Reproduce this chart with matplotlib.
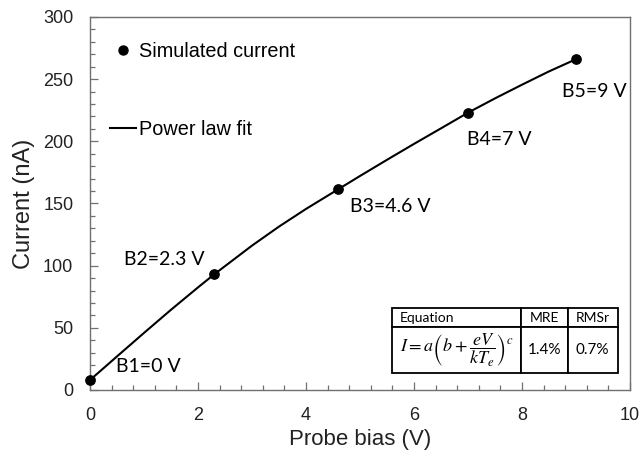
import matplotlib
matplotlib.use("Agg")
import matplotlib.pyplot as plt
from matplotlib.lines import Line2D

# simulated current at each probe bias
bias = [0, 2.3, 4.6, 7, 9]
current = [8, 93, 161.5, 223, 266]
point_labels = ["B1=0 V", "B2=2.3 V", "B3=4.6 V", "B4=7 V", "B5=9 V"]
label_pos = [(0.48, 18.6), (0.63, 104.6), (4.81, 147.4), (6.99, 201.1), (8.74, 239.9)]

# power law fit curve
fit_v = [0, 0.5, 1, 1.5, 2, 2.3, 3, 3.5, 4, 4.6, 5, 5.5, 6, 6.5, 7, 7.5, 8, 8.5, 9]
fit_i = [8, 27, 45.9, 64.5, 82.5, 93, 116.1, 131.4, 145.6, 161.5, 172.1, 185.1,
         197.9, 210.4, 223, 234.5, 245.5, 256.2, 266]

table_rows = [["Equation", "MRE", "RMSr"],
              [r"$I = a\left(b+\dfrac{eV}{kT_e}\right)^c$", "1.4%", "0.7%"]]

ANNOT_FONT = "Lato"
SPINE = "#707070"


def main():
    plt.rcParams["font.family"] = ["Liberation Sans", "DejaVu Sans"]
    plt.rcParams["mathtext.fontset"] = "stix"

    fig = plt.figure(figsize=(6.41, 4.58), dpi=100)
    ax = fig.add_axes([0.1404, 0.1485, 0.8424, 0.8145])

    ax.plot(fit_v, fit_i, color="black", lw=1.5, zorder=2)
    ax.scatter(bias, current, s=45, color="black", zorder=3, clip_on=False)

    for txt, (x, y) in zip(point_labels, label_pos):
        ax.text(x, y, txt, fontsize=14, family=ANNOT_FONT, ha="left", va="center")

    ax.set_xlim(0, 10)
    ax.set_ylim(0, 300)
    ax.set_xticks(range(0, 11, 2))
    ax.set_yticks(range(0, 301, 50))
    ax.set_xticks([i * 0.4 for i in range(26)], minor=True)
    ax.set_yticks(range(0, 301, 10), minor=True)
    ax.tick_params(which="both", direction="in", colors=SPINE, labelcolor="#222222",
                   labelsize=13, width=0.9)
    ax.tick_params(axis="x", which="both", top=False, pad=12)
    ax.tick_params(axis="y", which="both", right=False, pad=12)
    ax.tick_params(which="major", length=6)
    ax.tick_params(which="minor", length=3.5)
    for sp in ax.spines.values():
        sp.set_color(SPINE)
        sp.set_linewidth(1.0)

    ax.set_xlabel("Probe bias (V)", fontsize=16, color="#222222", labelpad=4)
    ax.set_ylabel("Current (nA)", fontsize=17, color="#222222", labelpad=6)

    handles = [Line2D([], [], ls="none", marker="o", ms=6.5, color="black"),
               Line2D([], [], color="black", lw=1.5)]
    ax.legend(handles, ["Simulated current", "Power law fit"], loc="upper left",
              bbox_to_anchor=(0.037, 0.932), frameon=False, fontsize=14.3,
              borderpad=0, borderaxespad=0, handlelength=1.3, handletextpad=0.15,
              labelspacing=2.95)

    # fit quality table
    col_w = [129, 47, 50]
    tab = ax.table(cellText=table_rows, colWidths=[w / sum(col_w) for w in col_w],
                   bbox=[(392.3 - 90) / 540, (390 - 373.3) / 373, 226 / 540, 65 / 373],
                   zorder=4)
    tab.auto_set_font_size(False)
    heights = [19, 46]
    for (r, c), cell in tab.get_celld().items():
        cell.set_height(heights[r])
        cell.set_edgecolor("black")
        cell.set_linewidth(1.3)
        cell.set_facecolor("white")
        t = cell.get_text()
        t.set_family(ANNOT_FONT)
        t.set_fontsize(10)
        cell.PAD = 0.06
        if r == 0 and c == 0:
            cell._loc = "left"
        elif r == 1 and c == 0:
            cell._loc = "center"
            t.set_fontsize(13)
        elif r == 1:
            cell._loc = "left"
            cell.PAD = 0.14
            t.set_fontsize(11)
        else:
            cell._loc = "center"
        t.set_ha(cell._loc)

    fig.savefig("out.png", dpi=100)


if __name__ == "__main__":
    main()
